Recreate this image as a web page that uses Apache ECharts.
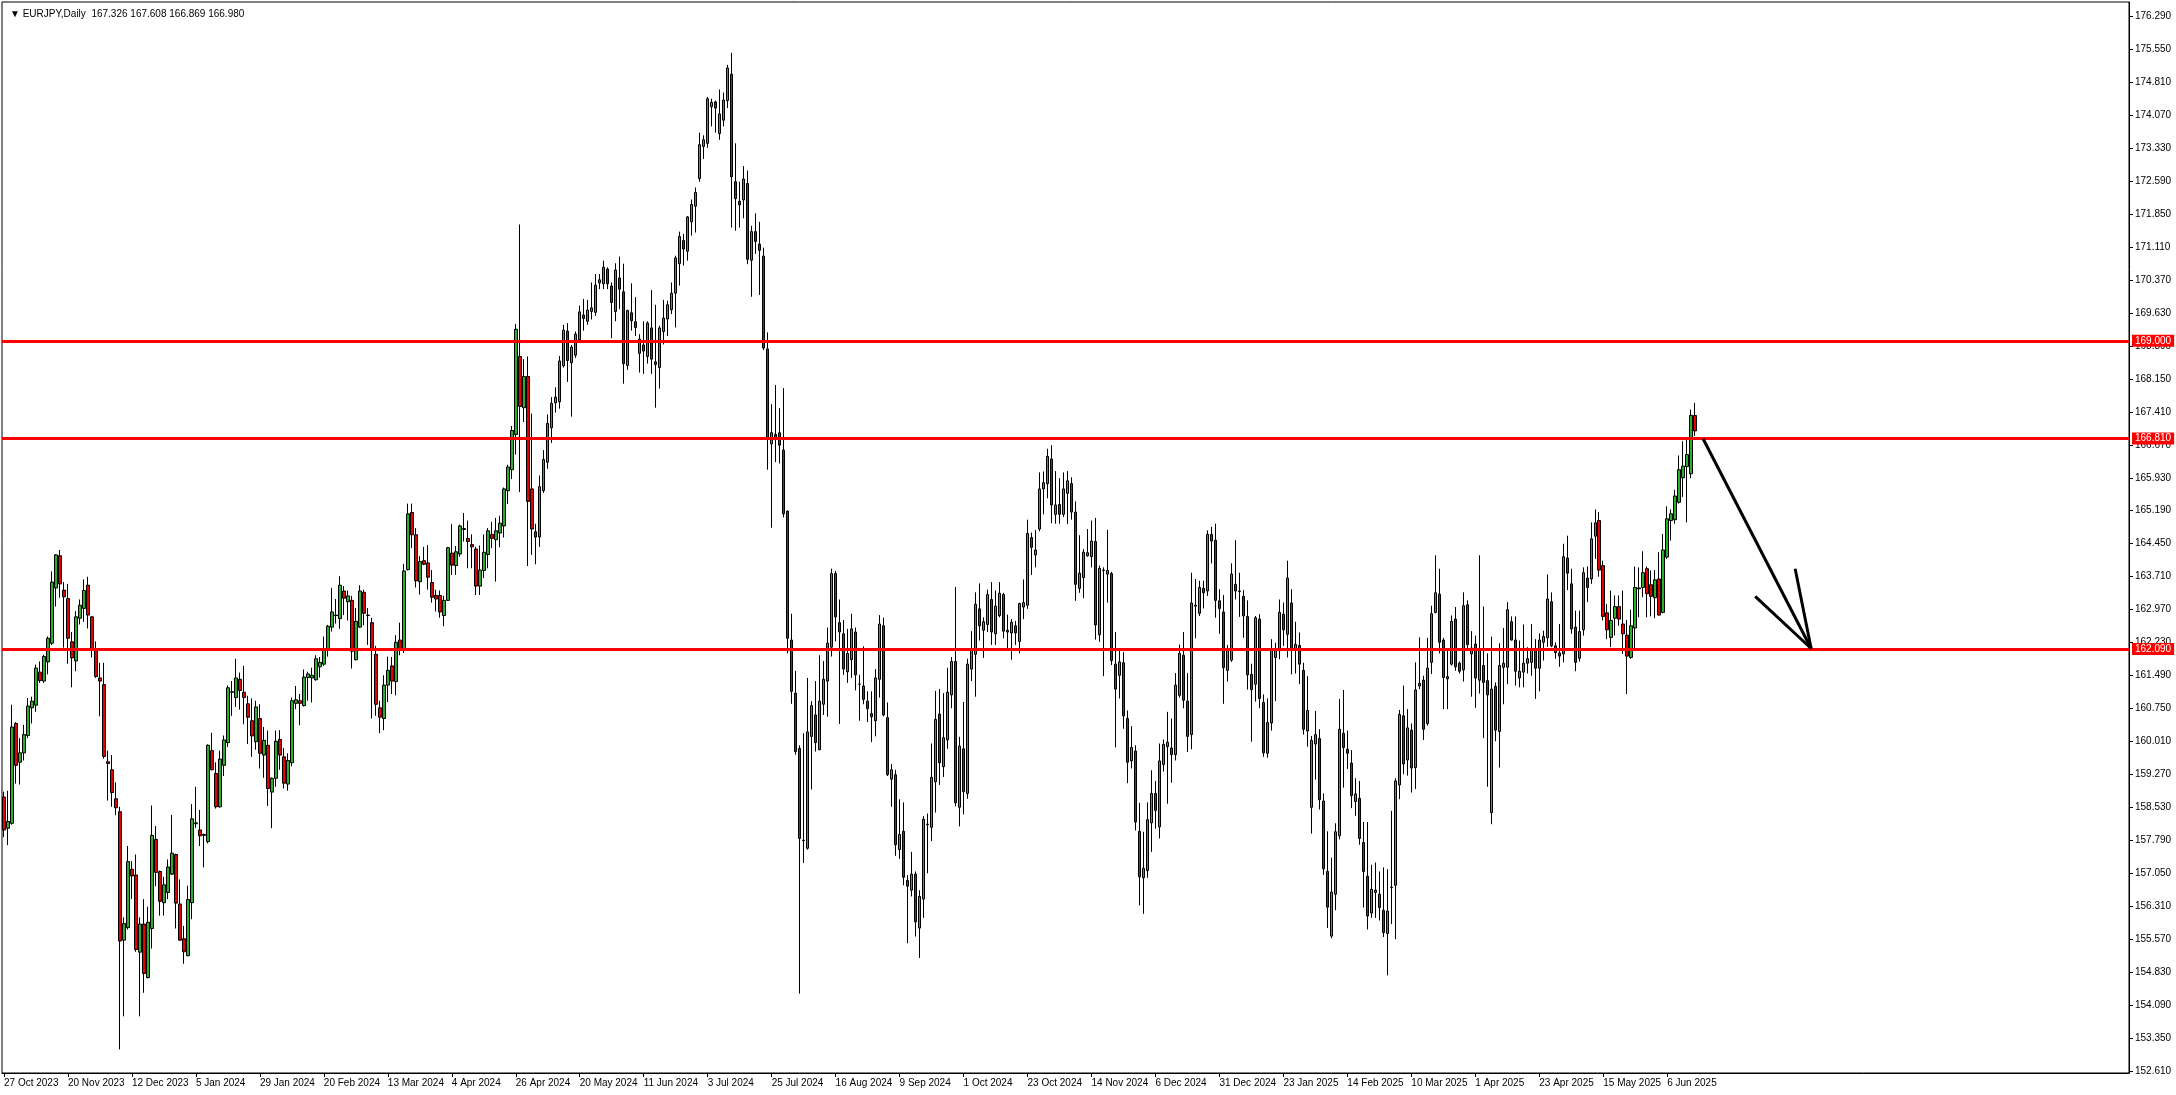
<!DOCTYPE html>
<html><head><meta charset="utf-8">
<script src="https://cdn.jsdelivr.net/npm/echarts@6.0.0/dist/echarts.min.js"></script>
<style>html,body{margin:0;padding:0;background:#fff;}#chart{width:2176px;height:1095px;}</style>
</head><body><div id="chart"></div>
<script>
const symbolTitle = 'EURJPY,Daily';
const lastBar = [167.326, 167.608, 166.869, 166.980];
const dateTickLabels = ['27 Oct 2023','20 Nov 2023','12 Dec 2023','5 Jan 2024','29 Jan 2024','20 Feb 2024','13 Mar 2024','4 Apr 2024','26 Apr 2024','20 May 2024','11 Jun 2024','3 Jul 2024','25 Jul 2024','16 Aug 2024','9 Sep 2024','1 Oct 2024','23 Oct 2024','14 Nov 2024','6 Dec 2024','31 Dec 2024','23 Jan 2025','14 Feb 2025','10 Mar 2025','1 Apr 2025','23 Apr 2025','15 May 2025','6 Jun 2025'];
const dateTickStep = 16;
const priceTicks = [152.61,153.35,154.09,154.83,155.57,156.31,157.05,157.79,158.53,159.27,160.01,160.75,161.49,162.23,162.97,163.71,164.45,165.19,165.93,166.67,167.41,168.15,168.89,169.63,170.37,171.11,171.85,172.59,173.33,174.07,174.81,175.55,176.29];

const opens = [
158.77,158.07,158.18,160.42,159.55,159.76,160.15,160.77,160.83,161.57,
161.37,161.80,162.22,163.46,164.18,163.41,163.22,162.25,161.82,162.78,
163.00,163.52,162.81,162.06,161.44,161.29,159.56,159.38,158.73,158.44,
155.56,155.84,157.15,157.02,155.29,155.92,154.72,155.82,157.82,157.10,
156.40,156.63,157.04,157.48,156.37,155.59,155.21,156.40,158.17,158.03,
157.93,157.77,159.81,159.30,158.55,159.48,159.99,161.12,161.00,161.41,
161.12,160.86,160.48,160.01,160.53,159.71,159.93,158.88,159.19,160.06,
159.67,159.06,159.54,160.87,160.93,160.82,161.45,161.44,161.40,161.69,
161.75,162.10,162.58,162.84,162.77,163.39,163.15,163.18,161.85,162.58,
163.36,162.84,162.68,161.97,160.77,160.53,161.28,161.71,161.36,162.29,
162.10,163.87,165.15,164.65,163.60,164.07,164.02,163.58,163.29,163.29,
162.84,163.18,164.24,163.96,164.22,164.77,164.57,164.43,164.33,163.50,
163.85,164.21,164.66,164.54,164.69,164.85,165.64,166.11,166.90,168.65,
167.50,168.20,165.68,164.72,164.60,165.64,166.28,167.05,167.61,167.63,
168.44,169.22,168.51,168.68,169.02,169.58,169.44,169.66,169.64,170.30,
170.28,170.61,170.23,169.66,170.41,170.10,168.45,169.63,169.43,168.72,
168.91,168.65,169.29,168.53,168.40,169.21,169.49,169.70,170.07,170.73,
171.25,171.01,171.67,172.02,172.64,173.36,173.43,174.25,174.36,173.65,
173.95,174.39,174.98,172.57,172.13,172.16,172.53,170.81,171.45,171.17,
170.90,168.82,166.69,166.90,166.94,166.55,165.18,162.29,161.10,159.86,
157.80,157.62,160.13,160.61,159.83,160.85,161.37,162.13,163.78,162.68,
162.43,161.58,161.85,162.47,161.30,161.26,160.92,160.64,160.48,161.41,
162.61,160.55,159.17,159.27,157.59,158.00,156.90,156.68,157.04,155.83,
156.48,158.15,158.09,159.11,160.63,159.45,160.05,161.06,161.81,158.54,
159.85,158.85,161.64,161.97,162.99,162.51,162.64,163.20,162.43,162.84,
163.31,162.51,162.45,162.61,162.26,163.03,163.07,164.59,164.20,164.78,
165.68,165.80,166.35,165.11,165.33,165.11,165.58,165.80,165.16,163.45,
163.69,164.18,164.16,164.50,162.41,163.85,163.77,163.78,161.75,161.50,
161.78,160.53,159.58,159.80,158.00,156.96,157.12,158.19,158.85,158.10,
159.50,159.90,159.87,159.72,161.05,161.95,160.92,160.17,163.05,162.89,
163.45,163.39,164.66,164.53,163.17,162.92,161.61,161.84,163.54,163.38,
163.27,162.82,161.52,161.30,162.76,160.89,159.75,160.43,161.90,162.05,
162.87,162.42,163.12,162.06,162.17,161.61,160.25,158.54,159.96,160.08,
158.68,157.10,155.65,156.59,157.90,160.20,159.84,159.53,158.67,158.74,
157.75,156.99,156.17,156.63,156.59,156.23,155.71,156.74,156.79,159.04,
160.59,159.60,160.27,159.43,161.26,161.39,160.42,161.79,162.91,163.32,
162.29,161.47,161.75,162.76,161.77,161.62,163.08,161.98,162.20,161.39,
161.72,161.38,158.42,161.25,160.24,161.68,161.68,162.70,162.29,161.44,
161.57,161.77,161.79,162.09,161.66,162.24,162.34,163.15,162.16,162.00,
161.98,164.13,163.55,162.58,161.88,162.52,163.68,163.66,164.62,164.97,
163.96,162.90,162.35,162.78,163.04,162.65,162.40,161.90,162.56,163.44,
163.47,163.89,163.53,163.24,163.66,162.91,164.15,164.97,164.99,165.38,
165.93,166.18,166.02,167.326];

const highs = [
158.89,158.91,160.84,160.45,160.09,160.39,160.99,161.02,161.74,161.81,
161.96,162.37,163.83,164.22,164.31,163.59,163.55,162.47,162.94,163.20,
163.65,163.71,162.83,162.26,161.78,161.78,159.81,159.71,159.10,158.55,
156.07,157.67,157.33,157.48,156.07,156.48,156.31,158.58,158.12,157.12,
156.98,157.37,158.37,157.50,156.92,155.88,156.78,158.61,159.00,158.48,
157.95,159.95,160.21,159.55,159.81,160.15,161.27,161.37,161.87,161.56,
161.71,161.04,160.98,160.93,160.85,160.34,160.26,159.21,160.26,160.27,
159.87,159.75,161.00,161.26,161.08,161.63,161.58,161.67,161.95,161.91,
162.37,162.63,163.46,163.21,163.72,163.50,163.40,163.28,163.01,163.52,
163.42,163.01,162.79,162.16,160.93,161.50,161.92,161.91,162.40,162.68,
164.00,165.35,165.35,164.80,164.17,164.38,164.42,163.86,163.42,163.40,
163.28,164.38,164.89,164.40,164.88,165.14,164.97,164.66,164.38,164.41,
164.66,164.80,164.94,165.03,165.08,165.71,166.22,167.09,169.38,171.61,
168.59,168.65,167.37,164.90,165.98,166.55,167.35,167.74,167.96,168.66,
169.36,169.40,168.91,169.21,169.79,169.94,169.92,170.31,170.50,170.50,
170.80,170.65,170.31,170.74,170.89,170.73,169.70,170.29,169.98,169.15,
169.44,169.44,170.14,169.81,169.34,169.92,169.90,170.31,170.91,171.45,
171.40,171.80,172.17,172.44,173.67,173.61,174.47,174.43,174.39,174.64,
174.57,175.19,175.46,173.43,172.57,172.92,172.82,171.58,171.86,171.67,
171.09,169.19,167.58,168.01,167.49,167.94,165.20,162.88,161.60,159.93,
160.20,161.44,160.92,161.37,161.95,161.82,162.57,163.89,163.84,163.20,
162.74,162.54,162.88,162.57,161.51,162.15,161.14,161.14,161.64,162.85,
162.79,160.89,159.51,159.38,158.72,158.65,157.02,157.54,157.10,156.68,
158.34,158.40,159.97,161.15,161.19,161.10,161.67,161.91,163.48,160.12,
160.90,161.87,162.49,163.36,163.56,162.80,163.42,163.59,163.40,163.59,
163.35,162.86,162.76,162.72,163.13,163.65,164.99,164.70,164.76,166.05,
166.07,166.58,166.66,166.08,165.92,166.05,166.08,165.94,165.40,164.64,
164.33,164.78,164.97,165.03,163.96,163.92,164.76,163.82,162.47,162.11,
162.02,160.71,160.36,159.93,158.64,157.99,158.65,159.37,159.13,159.97,
160.06,160.68,160.53,161.55,162.19,162.47,161.55,163.80,163.66,163.62,
163.62,164.75,164.83,164.90,163.43,163.30,162.18,164.01,164.53,163.80,
163.41,163.18,161.76,162.83,162.87,161.07,160.98,162.31,162.23,163.20,
163.13,164.07,163.43,162.70,162.46,161.78,161.48,160.14,160.70,160.29,
158.85,158.00,157.41,158.18,160.97,161.17,160.26,159.82,159.19,159.13,
158.21,158.21,157.25,157.30,157.10,157.19,157.15,158.46,159.19,160.72,
161.27,160.74,160.42,161.79,162.35,161.49,162.34,163.06,164.19,163.89,
162.34,162.11,162.84,163.03,161.81,163.36,163.18,162.49,162.39,164.19,
163.04,161.99,162.37,161.34,162.22,162.56,163.14,162.82,162.82,162.28,
162.64,162.13,162.65,162.31,162.44,162.50,163.76,163.36,162.24,162.65,
164.45,164.63,163.89,162.95,162.95,163.92,163.94,164.93,165.22,165.16,
164.07,163.10,163.40,163.29,163.29,163.40,162.74,162.97,163.94,163.92,
164.28,163.94,163.85,163.86,164.26,164.67,165.29,165.22,165.66,166.43,
166.75,166.84,167.46,167.608];

const lows = [
157.87,157.69,158.15,159.07,159.05,159.59,160.09,160.42,160.68,161.33,
161.33,161.52,162.18,163.04,163.24,162.12,161.76,161.23,161.59,162.64,
162.70,162.55,161.90,161.44,160.58,159.63,158.69,158.55,158.36,153.11,
153.85,155.80,156.48,155.30,153.85,154.38,154.70,155.37,156.77,156.11,
156.11,156.48,157.02,155.82,155.55,155.03,155.20,156.03,158.08,157.67,
157.19,157.73,159.37,158.51,158.53,159.24,159.89,160.59,160.79,160.73,
160.40,159.96,159.67,159.83,159.41,159.20,158.57,158.07,159.00,159.38,
158.96,158.91,159.46,160.74,160.38,160.80,160.93,160.89,161.38,161.45,
161.71,161.92,162.48,162.66,162.54,162.85,162.73,161.65,161.83,162.56,
162.62,162.18,160.53,160.59,160.20,160.27,160.90,161.08,161.05,161.95,
162.00,163.85,164.35,163.47,163.31,163.97,163.42,163.13,162.93,162.79,
162.60,163.17,163.75,163.75,164.16,164.50,163.90,163.90,163.30,163.30,
163.68,163.90,164.35,163.60,164.37,164.59,165.34,165.90,166.45,165.61,
167.18,163.95,164.20,163.99,164.38,165.59,166.13,166.71,167.39,167.48,
168.40,168.08,167.30,168.62,168.98,169.23,169.36,169.48,169.56,170.16,
170.16,170.16,169.06,169.44,169.71,168.04,168.35,169.23,169.11,168.29,
168.26,168.49,168.26,167.50,167.93,168.92,169.11,169.60,169.30,170.24,
170.69,170.80,171.36,171.43,172.57,173.08,173.33,173.81,173.67,173.51,
173.81,174.22,171.54,171.47,171.54,171.75,170.72,169.99,170.95,170.03,
168.79,166.11,164.81,166.28,166.25,165.04,161.99,160.86,159.72,154.36,
157.29,157.59,158.94,159.79,159.82,160.61,160.57,161.92,162.26,160.41,
161.51,161.33,161.44,161.16,160.48,160.85,160.45,160.00,160.13,161.00,
160.58,159.24,158.55,157.45,157.38,156.79,155.49,156.54,155.64,155.16,
156.06,157.06,157.78,158.42,159.04,159.22,159.85,160.76,158.56,158.11,
158.38,158.73,161.37,161.02,162.28,161.89,162.47,162.18,162.18,162.80,
162.33,162.10,161.85,162.18,161.99,162.76,162.99,163.75,163.92,164.73,
165.11,165.47,164.91,164.90,164.90,165.05,164.89,164.99,163.17,163.35,
163.23,164.16,163.92,162.30,162.25,161.48,163.13,161.73,159.88,160.98,
160.30,159.08,159.41,158.02,156.34,156.15,156.96,157.54,158.06,157.84,
159.34,158.62,159.09,159.59,161.00,160.76,159.78,159.84,162.33,162.83,
163.00,163.28,164.01,162.79,162.43,160.86,161.36,161.80,163.20,162.81,
162.34,161.18,160.01,160.91,160.76,159.67,159.65,160.26,160.92,161.86,
162.16,161.90,161.52,161.54,161.30,160.17,159.90,157.95,159.16,158.49,
157.02,155.83,155.60,156.23,157.82,158.98,159.40,158.52,158.35,157.70,
156.29,155.80,156.06,156.06,156.00,155.63,154.77,155.92,155.58,158.72,
159.28,159.25,158.87,158.95,161.19,160.05,160.37,161.53,162.89,161.99,
160.74,160.74,161.72,161.60,161.54,161.36,162.09,161.02,160.77,161.09,
160.09,159.00,158.16,160.02,159.43,160.85,161.30,162.28,161.27,161.23,
161.23,161.54,161.49,160.97,161.14,161.83,162.14,162.13,161.87,161.69,
161.79,163.41,162.43,161.59,161.81,162.39,163.14,163.55,164.11,163.71,
162.73,162.31,162.13,162.39,162.61,161.98,161.08,161.87,162.09,162.80,
163.25,162.80,162.82,162.78,162.84,162.89,164.11,164.52,164.90,165.35,
165.50,164.93,165.92,166.869];

const closes = [
158.03,158.22,160.34,159.48,159.76,160.17,160.81,160.92,161.66,161.38,
161.92,162.33,163.59,164.20,163.55,163.26,162.33,161.89,162.81,163.07,
163.40,162.85,162.10,161.47,161.37,159.68,159.52,158.87,158.53,155.54,
155.93,157.32,157.00,155.35,155.92,154.81,155.96,157.91,157.08,156.43,
156.80,157.20,157.51,156.39,155.56,155.30,156.47,158.28,158.19,157.90,
157.91,159.93,159.38,158.55,159.62,160.05,161.22,161.13,161.44,161.16,
161.00,160.56,160.14,160.79,159.75,160.04,158.96,159.19,160.02,159.71,
159.08,159.59,160.93,160.95,160.87,161.46,161.53,161.50,161.87,161.79,
162.10,162.60,162.92,162.85,163.52,163.23,163.28,162.04,162.71,163.39,
162.89,162.85,162.07,160.85,160.56,161.28,161.61,161.37,162.24,162.08,
163.84,165.12,164.65,163.62,164.05,163.99,163.70,163.25,163.21,162.92,
163.18,164.36,163.97,164.27,164.85,164.79,164.50,164.38,163.50,163.86,
164.26,164.74,164.57,164.74,164.91,165.68,166.17,166.99,169.26,167.53,
168.20,165.40,164.78,164.60,165.73,166.34,167.15,167.60,167.74,168.55,
169.24,168.56,168.86,169.15,169.65,169.50,169.69,169.74,170.25,170.37,
170.65,170.28,169.86,170.59,170.16,168.49,169.68,169.45,169.30,169.04,
168.77,169.40,168.59,168.47,169.29,169.51,169.81,170.07,170.86,171.34,
171.06,171.78,172.06,172.33,173.40,173.51,174.43,174.35,174.22,174.09,
174.40,175.12,172.68,172.19,172.05,172.63,170.83,171.45,171.23,171.03,
168.84,166.80,166.94,166.84,166.66,165.12,162.33,161.14,159.79,157.84,
157.79,160.23,160.82,159.99,160.92,161.41,162.22,163.78,162.81,162.47,
161.64,161.99,162.54,161.51,161.30,160.96,160.75,160.57,161.44,162.65,
160.61,159.27,159.38,157.70,157.93,156.97,156.77,157.04,155.97,156.54,
158.27,158.16,159.21,160.51,159.54,160.10,161.12,161.81,158.64,159.91,
158.89,161.75,162.06,163.09,162.61,162.70,163.31,162.47,163.05,163.34,
162.49,162.47,162.69,162.45,163.11,163.13,164.68,164.37,164.31,165.68,
165.82,166.41,165.32,165.32,165.11,165.68,165.86,165.16,163.54,163.79,
164.26,164.25,164.51,162.63,163.90,163.86,163.85,161.83,161.19,161.80,
160.59,159.55,159.88,158.21,156.98,157.17,158.26,158.85,158.47,159.58,
159.95,160.00,159.72,161.28,161.99,160.94,160.13,163.12,163.07,163.47,
163.35,164.66,164.51,163.18,163.00,161.67,162.06,163.77,163.39,163.39,
162.83,161.51,161.18,162.79,160.98,159.76,160.44,162.06,162.06,162.91,
162.52,163.68,162.08,162.19,161.75,160.29,160.71,160.04,160.17,158.71,
157.16,156.30,156.64,157.99,160.29,159.88,159.75,158.80,158.84,157.84,
157.10,156.10,156.70,156.68,156.29,155.73,156.21,156.75,159.13,160.62,
159.51,160.32,159.42,161.17,161.32,160.29,161.66,162.88,163.35,162.24,
161.45,161.42,162.71,161.69,161.59,163.06,162.19,162.11,161.44,162.09,
161.34,161.06,161.19,160.27,161.72,161.77,162.97,162.29,161.59,161.59,
161.77,161.87,162.09,161.66,162.29,162.37,163.21,162.16,162.01,161.93,
164.16,163.79,162.54,161.79,162.48,163.80,163.47,164.56,164.92,163.86,
162.82,162.52,162.73,163.04,162.76,162.43,161.93,162.61,163.47,163.46,
163.80,163.33,163.27,163.64,162.85,164.31,165.01,165.12,165.52,166.11,
166.19,166.45,167.33,166.980];

const levelLines = [169.000, 166.810, 162.090];
const currentPrice = 166.980;
const arrowShaft = [[425, 166.80], [452, 162.10]];
const arrowHead = [[438, 163.27], [452, 162.10], [448, 163.89]];
const totalSlots = 532;

const categories = [];
for (let i = 0; i < totalSlots; i++) categories.push(String(i));
const candleData = opens.map((o, i) => [o, closes[i], lows[i], highs[i]]);

const isDateTick = (idx) => idx % dateTickStep === 0 && idx / dateTickStep < dateTickLabels.length;
const FONT = 'Liberation Sans';

const chart = echarts.init(document.getElementById('chart'), null, {renderer: 'canvas'});
chart.setOption({
  animation: false,
  backgroundColor: '#ffffff',
  title: {
    text: '\u25BC ' + symbolTitle + '  ' + lastBar.map(v => v.toFixed(3)).join(' '),
    left: 5, top: 4,
    textStyle: {fontSize: 10, fontWeight: 'normal', color: '#000', fontFamily: FONT}
  },
  grid: {left: 2, right: 47, top: 2, bottom: 22, show: true, borderColor: '#000', borderWidth: 1, backgroundColor: 'transparent'},
  xAxis: {
    type: 'category',
    data: categories,
    boundaryGap: true,
    axisLine: {show: true, lineStyle: {color: '#000', width: 1}},
    axisTick: {show: true, alignWithLabel: true, length: 4, interval: (idx) => isDateTick(idx), lineStyle: {color: '#000'}},
    axisLabel: {
      show: true, interval: (idx) => isDateTick(idx), align: 'left', margin: 5,
      fontSize: 10, color: '#000', fontFamily: FONT,
      formatter: (val, idx) => dateTickLabels[Math.round(Number(val) / dateTickStep)] || ''
    },
    splitLine: {show: false}
  },
  yAxis: {
    type: 'value',
    position: 'right',
    min: 152.58, max: 176.60,
    scale: true,
    axisLine: {show: true, lineStyle: {color: '#000', width: 1}},
    axisTick: {show: true, length: 4, customValues: priceTicks, lineStyle: {color: '#000'}},
    axisLabel: {show: true, customValues: priceTicks, margin: 6, fontSize: 10, color: '#000', fontFamily: FONT,
      formatter: (v) => Number(v).toFixed(3)},
    splitLine: {show: false}
  },
  series: [
    {
      type: 'candlestick',
      data: candleData,
      barWidth: 3,
      itemStyle: {color: '#2CAE2C', color0: '#E80000', borderColor: '#000', borderColor0: '#000', borderWidth: 1},
      markLine: {
        silent: true,
        symbol: ['none', 'none'],
        animation: false,
        data: [
          {yAxis: currentPrice, lineStyle: {opacity: 0, width: 0},
           label: {show: true, position: 'end', distance: 3, formatter: currentPrice.toFixed(3), color: '#fff', backgroundColor: '#000',
                   fontSize: 10, fontFamily: FONT, padding: [1, 3, 0, 3], lineHeight: 11}}
        ].concat(levelLines.map(v => ({
          yAxis: v,
          lineStyle: {color: '#FF0000', width: 3, type: 'solid', opacity: 1},
          label: {show: true, position: 'end', distance: 3, formatter: v.toFixed(3), color: '#fff', backgroundColor: '#FF0000',
                  fontSize: 10, fontFamily: FONT, padding: [1, 3, 0, 3], lineHeight: 11}
        })))
      }
    },
    {
      type: 'line', data: arrowShaft, showSymbol: false, symbol: 'none', silent: true,
      lineStyle: {color: '#000', width: 3}, z: 5
    },
    {
      type: 'line', data: arrowHead, showSymbol: false, symbol: 'none', silent: true,
      lineStyle: {color: '#000', width: 3}, z: 5
    }
  ]
});
</script>
</body></html>
